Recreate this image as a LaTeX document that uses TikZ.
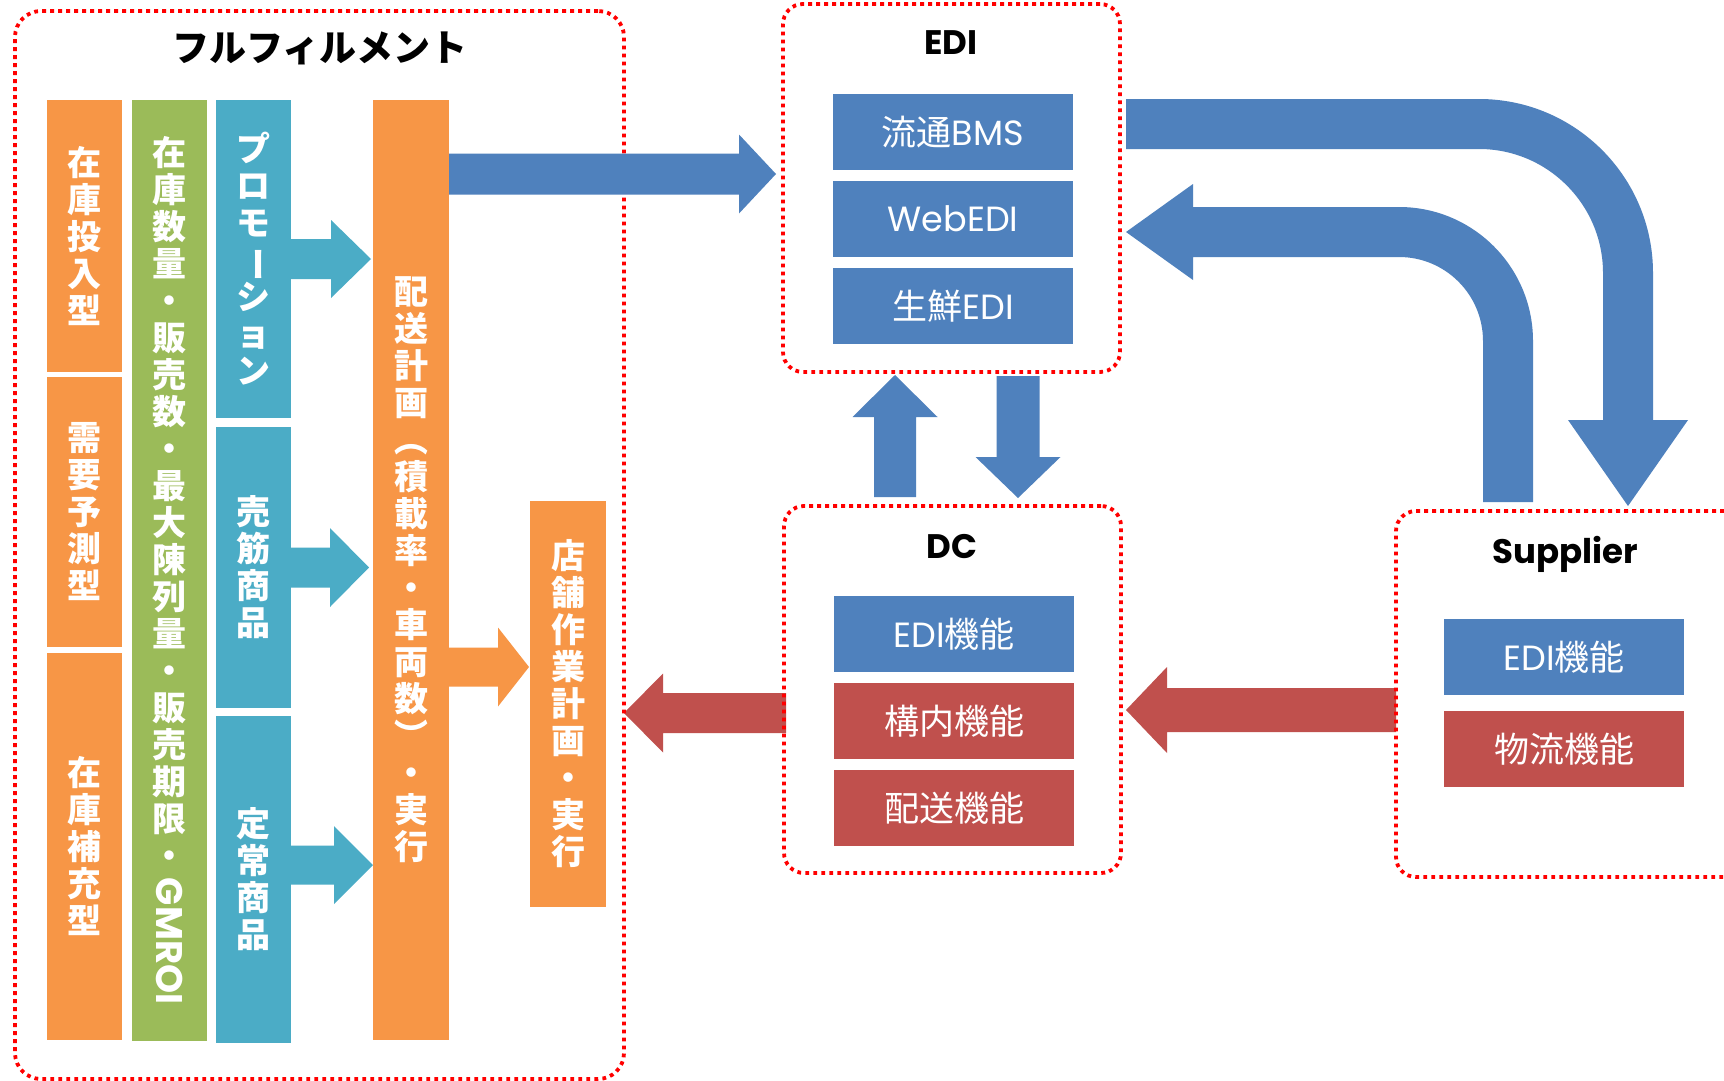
\documentclass[tikz,border=0pt]{standalone}
\usepackage{fontspec}
\usepackage{graphicx}
\setmainfont{Noto Sans CJK JP}
\newfontfamily\lat{Poppins}

\definecolor{fbBlue}{HTML}{4F81BD}
\definecolor{fbRed}{HTML}{C0504D}
\definecolor{fbTeal}{HTML}{4BACC6}
\definecolor{fbOrange}{HTML}{F79646}
\definecolor{fbGreen}{HTML}{9BBB59}

% vertical-writing forms
\newcommand\vbar{\rotatebox[origin=c]{-90}{ー}}
\newcommand\vlp{\rotatebox[origin=c]{-90}{（}}
\newcommand\vrp{\rotatebox[origin=c]{-90}{）}}
\newcommand\gmroi{\raisebox{28pt}{\rotatebox{-90}{\lat\bfseries\fontsize{37}{37}\selectfont GMROI}}}

% block arrow: colour, start, direction, length, shaft width, head width, head length
\newcommand\blockarrow[7]{%
  \fill[#1, shift={#2}, rotate=#3]
    (0,{-#5/2}) -- ({#4-#7},{-#5/2}) -- ({#4-#7},{-#6/2}) -- (#4,0)
    -- ({#4-#7},{#6/2}) -- ({#4-#7},{#5/2}) -- (0,{#5/2}) -- cycle;}

\tikzset{
  every node/.style={inner sep=0pt, outer sep=0pt},
  frame/.style={draw=red, line width=3.8pt, dash pattern=on 3.8pt off 4.2pt,
    rounded corners=20pt},
  col/.style={fill=#1, text=white, minimum width=75pt, align=center,
    font=\bfseries\fontsize{34}{37}\selectfont},
  entry/.style={fill=#1, text=white, minimum width=240pt, minimum height=76pt,
    font=\fontsize{35}{40}\selectfont},
  jtitle/.style={font=\bfseries\fontsize{37}{40}\selectfont},
  ltitle/.style={font=\lat\bfseries\fontsize{34}{40}\selectfont, anchor=base},
}

\begin{document}
\begin{tikzpicture}[x=1pt, y=-1pt]
\useasboundingbox (0,0) rectangle (1724,1081);
\fill[white] (0,0) rectangle (1724,1081);

% ---------- fulfillment columns ----------
\node[col=fbOrange, minimum height=272pt] (c1a) at (84.5,236) {在\\庫\\投\\入\\型};
\node[col=fbOrange, minimum height=270pt] (c1b) at (84.5,512) {需\\要\\予\\測\\型};
\node[col=fbOrange, minimum height=387pt] (c1c) at (84.5,846.5) {在\\庫\\補\\充\\型};
\node[col=fbGreen, minimum height=941pt] (c2) at (169.5,570.5)
  {在\\庫\\数\\量\\・\\販\\売\\数\\・\\最\\大\\陳\\列\\量\\・\\販\\売\\期\\限\\・\\\gmroi};
\node[col=fbTeal, minimum height=318pt] (c3a) at (253.5,259) {プ\\ロ\\モ\\\vbar\\シ\\ョ\\ン};
\node[col=fbTeal, minimum height=281pt] (c3b) at (253.5,567.5) {売\\筋\\商\\品};
\node[col=fbTeal, minimum height=327pt] (c3c) at (253.5,879.5) {定\\常\\商\\品};
\node[col=fbOrange, minimum width=76pt, minimum height=940pt] (c4) at (411,570)
  {配\\送\\計\\画\\\vlp\\積\\載\\率\\・\\車\\両\\数\\\vrp\\・\\実\\行};
\node[col=fbOrange, minimum width=76pt, minimum height=406pt] (c5) at (568,704)
  {店\\舗\\作\\業\\計\\画\\・\\実\\行};

% arrow start points
\coordinate (t1) at (c3a.east);
\coordinate (t2) at (c3b.east);
\coordinate (t3) at (291,865);
\coordinate (o1) at (449,667);
\coordinate (b1) at (449,174);
\coordinate (up) at (895,497);
\coordinate (dn) at (1018,376);
\coordinate (r1) at (1396,710);
\coordinate (r2) at (786,713);
\coordinate (ediOut) at (1126,99);
\coordinate (ediIn) at (1126,232);

\blockarrow{fbTeal}{(t1)}{0}{80}{40}{78}{40}
\blockarrow{fbTeal}{(t2)}{0}{78}{40}{79}{39}
\blockarrow{fbTeal}{(t3)}{0}{82}{39}{78}{39}
\blockarrow{fbOrange}{(o1)}{0}{80}{39}{79}{31}

% red flows
\blockarrow{fbRed}{(r1)}{180}{270}{44}{86}{41}
\blockarrow{fbRed}{(r2)}{180}{162}{40}{79}{39}

% ---------- frames ----------
\node[frame, rounded corners=26pt, minimum width=609pt, minimum height=1068pt] (ful) at (319.5,545) {};
\node[frame, minimum width=337pt, minimum height=368pt] (edi) at (951.5,188) {};
\node[frame, minimum width=337pt, minimum height=367pt] (dc) at (952.5,689.5) {};
\begin{scope}
  \clip (0,0) rectangle (1724,1081);
  \node[frame, minimum width=364pt, minimum height=366pt] (sup) at (1578,694) {};
\end{scope}

% ---------- titles ----------
\node[jtitle] (tful) at (320,48) {フルフィルメント};
\node[ltitle] (tedi) at (951,55) {EDI};
\node[ltitle] (tdc) at (952,558) {DC};
\node[ltitle] (tsup) at (1565,563) {Supplier};

% ---------- EDI / DC / Supplier entries ----------
\node[entry=fbBlue] (e1) at (953,132) {流通{\lat BMS}};
\node[entry=fbBlue] (e2) at (953,219) {\lat WebEDI};
\node[entry=fbBlue] (e3) at (953,306) {生鮮{\lat EDI}};

\node[entry=fbBlue] (d1) at (954,634) {{\lat EDI}機能};
\node[entry=fbRed] (d2) at (954,721) {構内機能};
\node[entry=fbRed] (d3) at (954,808) {配送機能};

\node[entry=fbBlue] (s1) at (1564,657) {{\lat EDI}機能};
\node[entry=fbRed] (s2) at (1564,749) {物流機能};

% ---------- blue flows ----------
\blockarrow{fbBlue}{(b1)}{0}{327}{41}{79}{37}
\blockarrow{fbBlue}{(up)}{90}{122}{42}{85}{42}
\blockarrow{fbBlue}{(dn)}{-90}{122}{43}{85}{41}

% EDI -> Supplier
\fill[fbBlue] (ediOut) -- (1479,99) arc[start angle=-90, end angle=0, radius=174]
  -- (1653,420) -- (1688,420) -- (1628,506) -- (1568,420) -- (1603,420) -- (1603,273)
  arc[start angle=0, end angle=-90, radius=124] -- (1126,149) -- cycle;
% Supplier -> EDI
\fill[fbBlue] (1533,502) -- (1533,341) arc[start angle=0, end angle=-90, radius=134]
  -- (1193,207) -- (1193,184) -- (ediIn) -- (1193,280) -- (1193,257) -- (1399,257)
  arc[start angle=-90, end angle=0, radius=84] -- (1483,502) -- cycle;
\end{tikzpicture}
\end{document}
